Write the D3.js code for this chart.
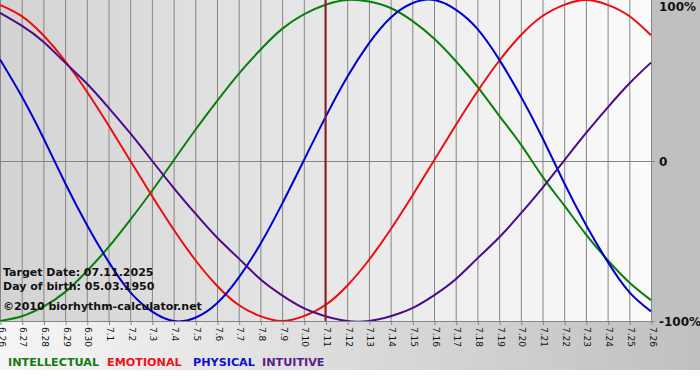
<!DOCTYPE html>
<html>
<head>
<meta charset="utf-8">
<script src="https://cdn.jsdelivr.net/npm/d3@7"></script>
<style>
  body { margin: 0; background: #fff; }
  svg { display: block; font-family: "DejaVu Sans", Verdana, sans-serif; }
</style>
</head>
<body>
<div id="chart"></div>
<script>
// day labels along the x axis (6.26 .. 7.26)
var days = ["6.26","6.27","6.28","6.29","6.30","7.1","7.2","7.3","7.4","7.5","7.6","7.7","7.8","7.9",
  "7.10","7.11","7.12","7.13","7.14","7.15","7.16","7.17","7.18","7.19","7.20","7.21","7.22","7.23",
  "7.24","7.25","7.26"];

// series values per day, -1 .. 1
var intellectual = [-1.00,-0.97,-0.91,-0.82,-0.69,-0.54,-0.37,-0.19,0.00,0.19,0.37,0.54,0.69,0.82,0.91,
  0.97,1.00,0.99,0.95,0.87,0.76,0.62,0.46,0.28,0.10,-0.10,-0.28,-0.46,-0.62,-0.76,-0.87];
var emotional = [0.97,0.90,0.78,0.62,0.43,0.22,0.00,-0.22,-0.43,-0.62,-0.78,-0.90,-0.97,-1.00,-0.97,
  -0.90,-0.78,-0.62,-0.43,-0.22,0.00,0.22,0.43,0.62,0.78,0.90,0.97,1.00,0.97,0.90,0.78];
var physical = [0.63,0.40,0.14,-0.14,-0.40,-0.63,-0.82,-0.94,-1.00,-0.98,-0.89,-0.73,-0.52,-0.27,0.00,
  0.27,0.52,0.73,0.89,0.98,1.00,0.94,0.82,0.63,0.40,0.14,-0.14,-0.40,-0.63,-0.82,-0.94];
var intuitive = [0.92,0.84,0.74,0.61,0.48,0.33,0.17,0.00,-0.17,-0.33,-0.48,-0.61,-0.74,-0.84,-0.92,
  -0.97,-1.00,-1.00,-0.97,-0.92,-0.84,-0.74,-0.61,-0.48,-0.33,-0.17,0.00,0.17,0.33,0.48,0.61];

var seriesNames = ["INTELLECTUAL", "EMOTIONAL", "PHYSICAL", "INTUITIVE"];
var seriesValues = [intellectual, emotional, physical, intuitive];
var seriesColors = ["#0b7f0b", "#ee0d0d", "#0000d0", "#4d0a88"];
var legendColors = ["#137a13", "#ee1122", "#1010cc", "#5a1a8a"];

var yTickValues = [1, 0, -1];
var yTickLabels = ["100%", "0", "-100%"];

var targetIndex = 15; // 7.11
var infoLines = ["Target Date: 07.11.2025", "Day of birth: 05.03.1950", "©2010 biorhythm-calculator.net"];

var width = 700, height = 380;
var plotW = 651, plotH = 321, chartH = 370;

var svg = d3.select("#chart").append("svg")
  .attr("width", width)
  .attr("height", height);

var defs = svg.append("defs");
var gPlot = defs.append("linearGradient").attr("id", "plotBg");
gPlot.append("stop").attr("offset", "0%").attr("stop-color", "#d3d3d3");
gPlot.append("stop").attr("offset", "100%").attr("stop-color", "#fbfbfb");
var gBottom = defs.append("linearGradient").attr("id", "bottomBg");
gBottom.append("stop").attr("offset", "0%").attr("stop-color", "#f6f6f6");
gBottom.append("stop").attr("offset", "100%").attr("stop-color", "#c0c0c0");
defs.append("clipPath").attr("id", "clip")
  .append("rect").attr("x", 0).attr("y", 0).attr("width", plotW + 1).attr("height", plotH);

// backgrounds
svg.append("rect").attr("x", 0).attr("y", plotH).attr("width", width).attr("height", chartH - plotH)
  .attr("fill", "url(#bottomBg)");
svg.append("rect").attr("x", plotW).attr("y", 0).attr("width", width - plotW).attr("height", plotH)
  .attr("fill", "#c0c0c0");
svg.append("rect").attr("x", 0).attr("y", 0).attr("width", plotW).attr("height", plotH)
  .attr("fill", "url(#plotBg)");

var x = d3.scaleLinear().domain([0, days.length - 1]).range([0, plotW]);
var y = d3.scaleLinear().domain([-1, 1]).range([plotH, 0]);

// vertical grid lines, one per day
svg.append("g").selectAll("line").data(days).enter().append("line")
  .attr("x1", function(d, i) { return x(i) + 0.5; })
  .attr("x2", function(d, i) { return x(i) + 0.5; })
  .attr("y1", 0).attr("y2", plotH)
  .attr("stroke", "#858585");

// zero line and bottom line
svg.append("line").attr("x1", 0).attr("x2", plotW + 4)
  .attr("y1", Math.round(y(0)) + 0.5).attr("y2", Math.round(y(0)) + 0.5).attr("stroke", "#858585");
svg.append("line").attr("x1", 0).attr("x2", plotW + 4)
  .attr("y1", plotH + 0.5).attr("y2", plotH + 0.5).attr("stroke", "#858585");

// x axis ticks and labels
var xAxis = d3.axisBottom(x)
  .tickValues(d3.range(days.length))
  .tickFormat(function(i) { return days[i]; })
  .tickSize(4)
  .tickSizeOuter(0);
var gx = svg.append("g").attr("transform", "translate(0," + plotH + ")").call(xAxis);
gx.select(".domain").remove();
gx.selectAll(".tick line").attr("stroke", "#858585").attr("transform", "translate(0.5,0)");
gx.selectAll(".tick text")
  .attr("font-size", 9)
  .attr("font-family", "DejaVu Sans, sans-serif")
  .attr("fill", "#111")
  .attr("y", 0).attr("dy", 0)
  .attr("text-anchor", "start")
  .attr("dominant-baseline", "middle")
  .attr("transform", "translate(0.5,6) rotate(90)");

// y labels on the right
svg.append("g").selectAll("text").data(yTickValues).enter().append("text")
  .attr("x", plotW + 8)
  .attr("y", function(v) { return Math.max(y(v) + 5, 11); })
  .attr("font-size", 12)
  .attr("font-weight", "bold")
  .attr("fill", "#111")
  .text(function(v, i) { return yTickLabels[i]; });

// series lines
var line = d3.line()
  .x(function(d, i) { return x(i); })
  .y(function(d) { return y(d); })
  .curve(d3.curveNatural);

var gLines = svg.append("g").attr("clip-path", "url(#clip)");
gLines.selectAll("path").data(seriesValues).enter().append("path")
  .attr("d", function(d) { return line(d); })
  .attr("fill", "none")
  .attr("stroke", function(d, i) { return seriesColors[i]; })
  .attr("stroke-width", 2);

// target date marker
svg.append("line")
  .attr("x1", x(targetIndex)).attr("x2", x(targetIndex))
  .attr("y1", 0).attr("y2", plotH)
  .attr("stroke", "#8a1f1f").attr("stroke-width", 2);

// info text
svg.append("g").selectAll("text").data(infoLines).enter().append("text")
  .attr("x", 3)
  .attr("y", function(d, i) { return [276, 290, 310][i]; })
  .attr("font-size", 11)
  .attr("font-weight", "bold")
  .attr("fill", "#111")
  .text(function(d) { return d; });

// legend, each name placed where the original has it
var legendX = [8, 107, 193, 262];
svg.append("g").selectAll("text").data(seriesNames).enter().append("text")
  .attr("x", function(d, i) { return legendX[i]; })
  .attr("y", 366)
  .attr("font-size", 11.2)
  .attr("font-weight", "bold")
  .attr("fill", function(d, i) { return legendColors[i]; })
  .text(function(d) { return d; });
</script>
</body>
</html>
